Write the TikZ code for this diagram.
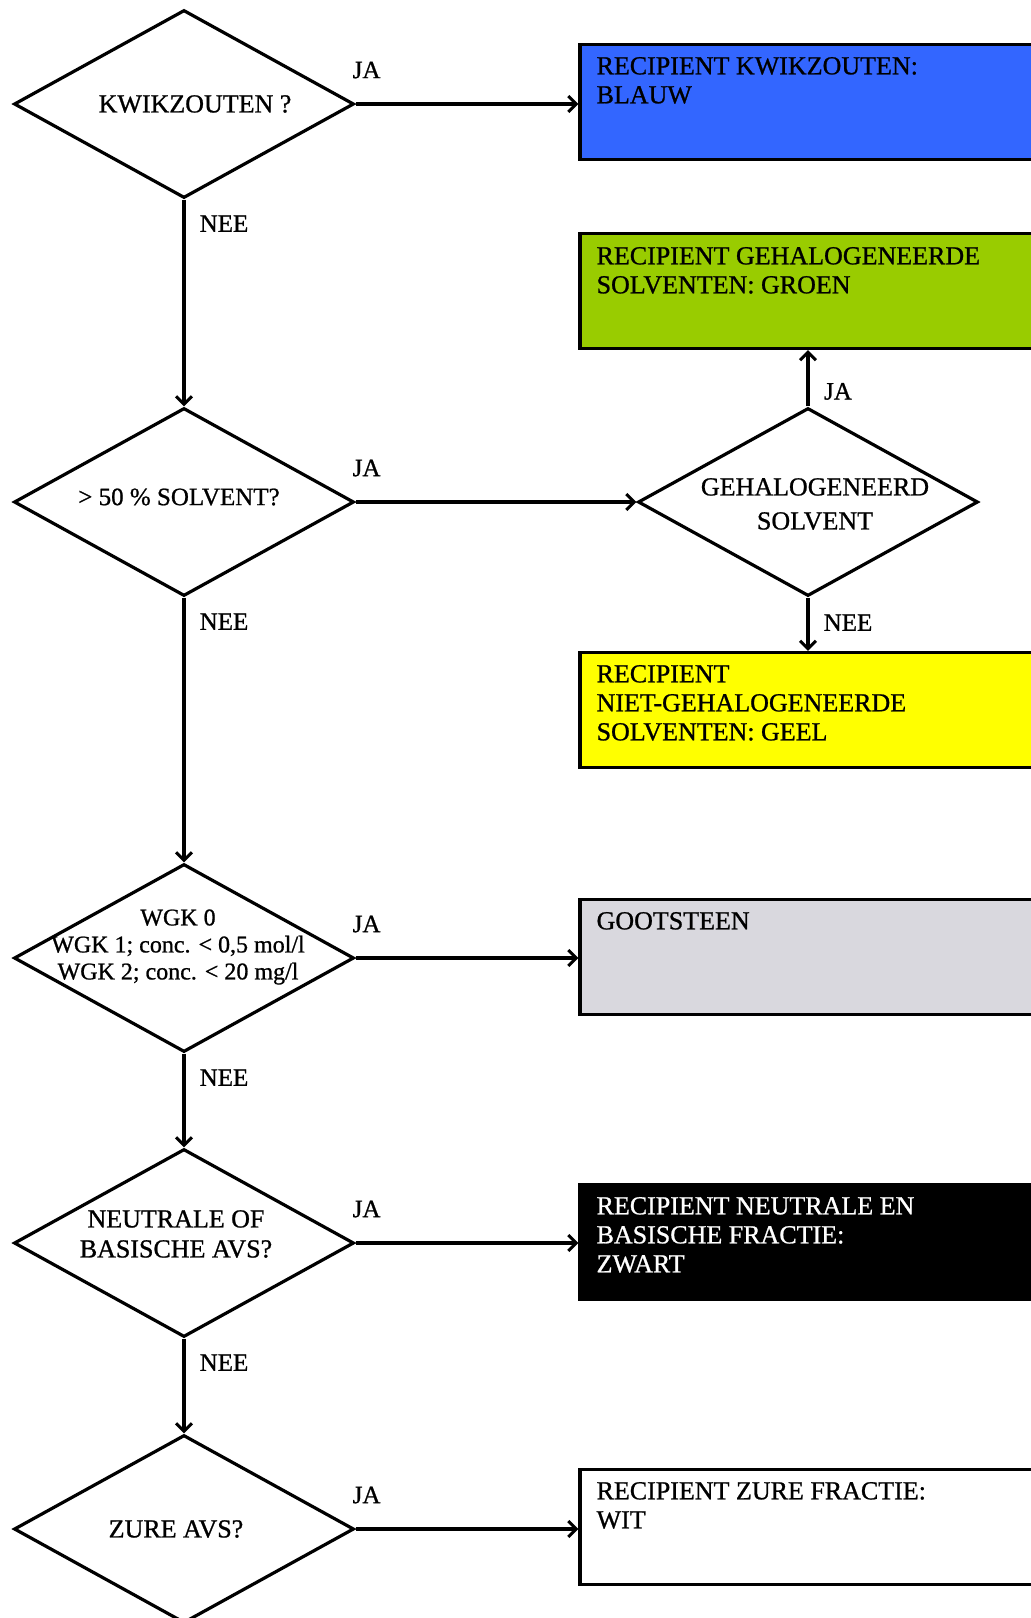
\documentclass[tikz,border=0pt]{standalone}
\usepackage{fontspec}
\setmainfont{Liberation Serif}
\newfontfamily\heavyfam{Liberation Serif}[FakeBold=0.9]
\usetikzlibrary{shapes.geometric,arrows.meta}
\definecolor{cblue}{RGB}{51,102,255}
\definecolor{cgreen}{RGB}{153,204,0}
\definecolor{cyellow}{RGB}{255,255,0}
\definecolor{cgray}{RGB}{217,216,222}
\begin{document}
\begin{tikzpicture}[x=1pt,y=-1pt,
  dia/.style={diamond, draw, line width=3.2pt, minimum width=340pt, minimum height=188pt, inner sep=0pt},
  box/.style={rectangle, draw, line width=3.2pt, minimum width=460pt, minimum height=115pt, inner sep=0pt},
  btext/.style={anchor=north west, inner sep=0pt, align=left, font=\heavyfam\fontsize{26}{29}\selectfont},
  dtext/.style={inner sep=0pt, align=center, font=\heavyfam\fontsize{26}{30}\selectfont},
  lbl/.style={inner sep=0pt, font=\heavyfam\fontsize{25}{30}\selectfont},
  arr/.style={line width=3.2pt, -{Straight Barb[length=8pt,width=16pt,line width=3pt]}}]
\useasboundingbox (0,0) rectangle (1031,1618);
\clip (0,0) rectangle (1031,1618);
% decisions
\node[dia] (d1) at (184,104) {};
\node[dtext] (t1) at ([xshift=11pt]d1.center) {KWIKZOUTEN ?};
\node[dia] (d2) at (184,502) {};
\node[dtext, font=\heavyfam\fontsize{25}{30}\selectfont] (t2) at ([shift={(-5,-5)}]d2.center) {> 50 \% SOLVENT?};
\node[dia] (d3) at (808,502) {};
\node[dtext, font=\heavyfam\fontsize{26}{34}\selectfont] (t3) at ([shift={(7,2)}]d3.center) {GEHALOGENEERD\\SOLVENT};
\node[dia] (d4) at (184,958) {};
\node[dtext, font=\heavyfam\fontsize{24}{27}\selectfont] (t4) at ([shift={(-6,-11)}]d4.center) {WGK 0\\WGK 1; conc. < 0,5 mol/l\\WGK 2; conc. < 20 mg/l};
\node[dia] (d5) at (184,1243) {};
\node[dtext] (t5) at ([shift={(-8,-9)}]d5.center) {NEUTRALE OF\\BASISCHE AVS?};
\node[dia] (d6) at (184,1529) {};
\node[dtext] (t6) at ([shift={(-8,0)}]d6.center) {ZURE AVS?};
% boxes
\node[box, fill=cblue] (b1) at (810,102) {};
\node[btext] (bt1) at ([shift={(18,14)}]b1.north west) {RECIPIENT KWIKZOUTEN:\\BLAUW};
\node[box, fill=cgreen] (b2) at (810,291) {};
\node[btext] (bt2) at ([shift={(18,15)}]b2.north west) {RECIPIENT GEHALOGENEERDE\\SOLVENTEN: GROEN};
\node[box, fill=cyellow] (b3) at (810,710) {};
\node[btext] (bt3) at ([shift={(18,14)}]b3.north west) {RECIPIENT\\NIET-GEHALOGENEERDE\\SOLVENTEN: GEEL};
\node[box, fill=cgray] (b4) at (810,957) {};
\node[btext] (bt4) at ([shift={(18,14)}]b4.north west) {GOOTSTEEN};
\node[box, fill=black] (b5) at (810,1242) {};
\node[btext, text=white] (bt5) at ([shift={(18,14)}]b5.north west) {RECIPIENT NEUTRALE EN\\BASISCHE FRACTIE:\\ZWART};
\node[box, fill=white] (b6) at (810,1527) {};
\node[btext] (bt6) at ([shift={(18,14)}]b6.north west) {RECIPIENT ZURE FRACTIE:\\WIT};
% connectors
\draw[arr] (d1.east) -- (d1.east -| b1.west);
\draw[arr] (d1.south) -- (d2.north);
\draw[arr] (d2.east) -- (d3.west);
\draw[arr] (d3.north) -- (d3.north |- b2.south);
\draw[arr] (d3.south) -- (d3.south |- b3.north);
\draw[arr] (d2.south) -- (d4.north);
\draw[arr] (d4.east) -- (d4.east -| b4.west);
\draw[arr] (d4.south) -- (d5.north);
\draw[arr] (d5.east) -- (d5.east -| b5.west);
\draw[arr] (d5.south) -- (d6.north);
\draw[arr] (d6.east) -- (d6.east -| b6.west);
% labels
\node[lbl] (j1) at ([shift={(11,-34)}]d1.east) {JA};
\node[lbl] (n1) at ([shift={(40,24)}]d1.south) {NEE};
\node[lbl] (j2) at ([shift={(11,-34)}]d2.east) {JA};
\node[lbl] (n2) at ([shift={(40,24)}]d2.south) {NEE};
\node[lbl] (j3) at ([shift={(30,-15)}]d3.north) {JA};
\node[lbl] (n3) at ([shift={(40,25)}]d3.south) {NEE};
\node[lbl] (j4) at ([shift={(11,-34)}]d4.east) {JA};
\node[lbl] (n4) at ([shift={(40,24)}]d4.south) {NEE};
\node[lbl] (j5) at ([shift={(11,-34)}]d5.east) {JA};
\node[lbl] (n5) at ([shift={(40,24)}]d5.south) {NEE};
\node[lbl] (j6) at ([shift={(11,-34)}]d6.east) {JA};
\end{tikzpicture}
\end{document}
